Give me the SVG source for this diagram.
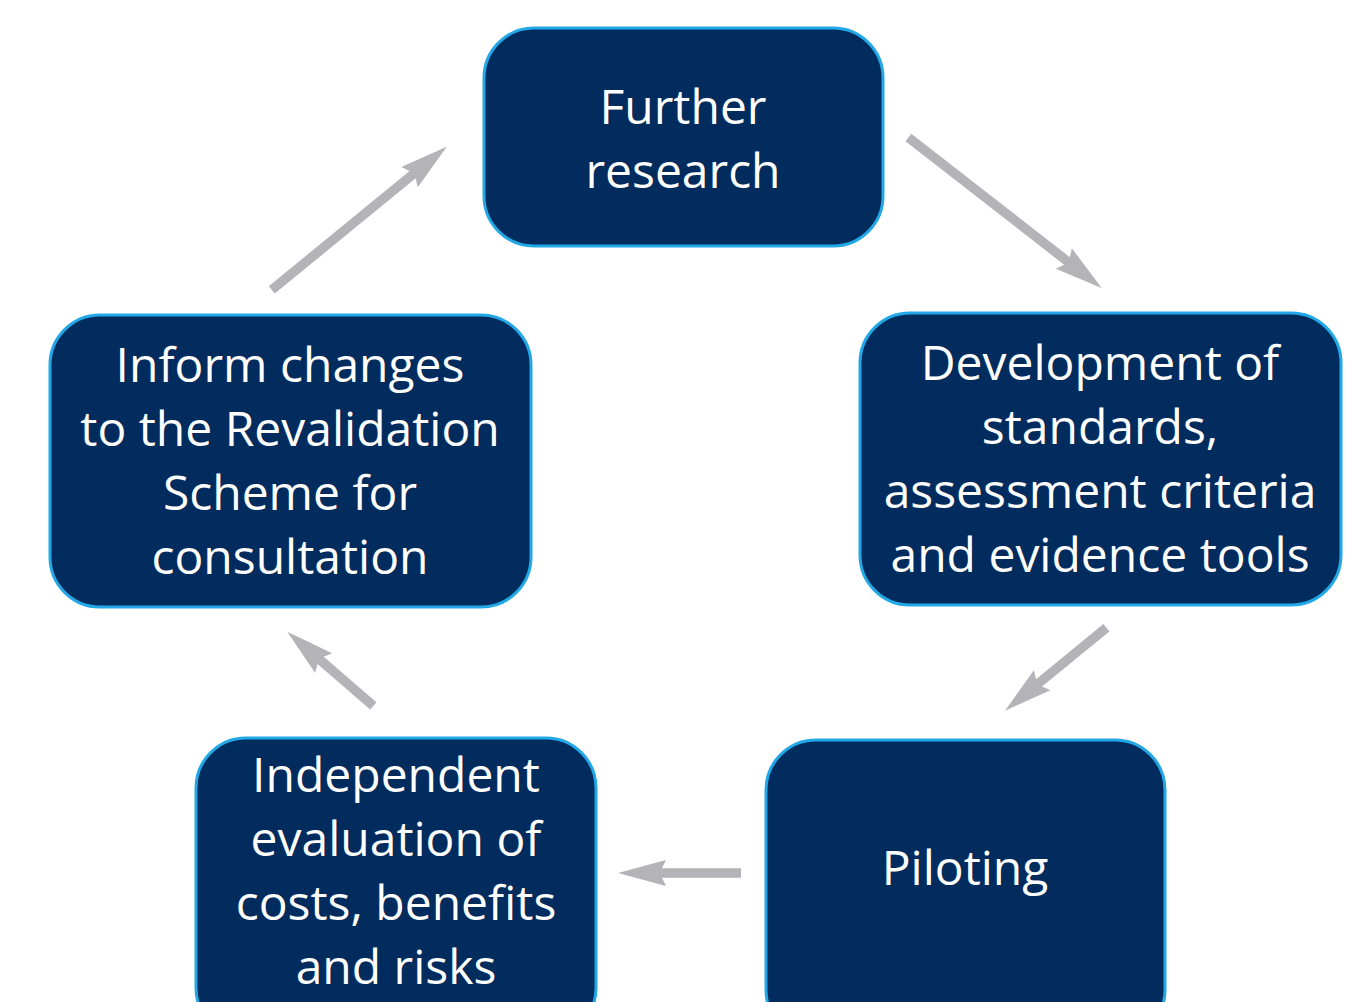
<svg xmlns="http://www.w3.org/2000/svg" width="1349" height="1002" viewBox="0 0 1349 1002">
<style>
.box{fill:#022c5e;stroke:#22a8e6;stroke-width:3}
.t{font-family:"Open Sans","Noto Sans",sans-serif;font-size:48px;fill:#ffffff;text-anchor:middle}
.arr{fill:#b3b3b8}
</style>
<rect width="1349" height="1002" fill="#ffffff"/>
<g id="connectors">
<path class="arr" transform="translate(1101.7,288) rotate(37.9)" d="M0,0 L-48,-13 L-44,-4.75 L-245,-4.75 L-245,4.75 L-44,4.75 L-48,13 Z"/>
<path class="arr" transform="translate(1005,710.7) rotate(140.7)" d="M0,0 L-48,-13 L-44,-4.75 L-131,-4.75 L-131,4.75 L-44,4.75 L-48,13 Z"/>
<path class="arr" transform="translate(618,873) rotate(180)" d="M0,0 L-48,-13 L-44,-4.75 L-123,-4.75 L-123,4.75 L-44,4.75 L-48,13 Z"/>
<path class="arr" transform="translate(287.3,631.7) rotate(-139.2)" d="M0,0 L-48,-13 L-44,-4.75 L-113.6,-4.75 L-113.6,4.75 L-44,4.75 L-48,13 Z"/>
<path class="arr" transform="translate(446.7,146.7) rotate(-39.3)" d="M0,0 L-48,-13 L-44,-4.75 L-226,-4.75 L-226,4.75 L-44,4.75 L-48,13 Z"/>
</g>
<g id="further-research">
<rect class="box" x="484" y="28" width="399" height="218" rx="50" ry="50"/>
<text class="t" x="683" y="124">Further</text>
<text class="t" x="683" y="188">research</text>
</g>
<g id="development">
<rect class="box" x="860" y="313" width="481" height="292" rx="50" ry="50"/>
<text class="t" x="1100" y="380">Development of</text>
<text class="t" x="1100" y="444">standards,</text>
<text class="t" x="1100" y="508">assessment criteria</text>
<text class="t" x="1100" y="572">and evidence tools</text>
</g>
<g id="piloting">
<rect class="box" x="766" y="740" width="399" height="300" rx="50" ry="50"/>
<text class="t" x="965" y="885">Piloting</text>
</g>
<g id="independent-evaluation">
<rect class="box" x="196" y="738" width="400" height="300" rx="50" ry="50"/>
<text class="t" x="396" y="792">Independent</text>
<text class="t" x="396" y="856">evaluation of</text>
<text class="t" x="396" y="920">costs, benefits</text>
<text class="t" x="396" y="984">and risks</text>
</g>
<g id="inform-changes">
<rect class="box" x="50" y="315" width="481" height="292" rx="50" ry="50"/>
<text class="t" x="290" y="382">Inform changes</text>
<text class="t" x="290" y="446">to the Revalidation</text>
<text class="t" x="290" y="510">Scheme for</text>
<text class="t" x="290" y="574">consultation</text>
</g>
</svg>
